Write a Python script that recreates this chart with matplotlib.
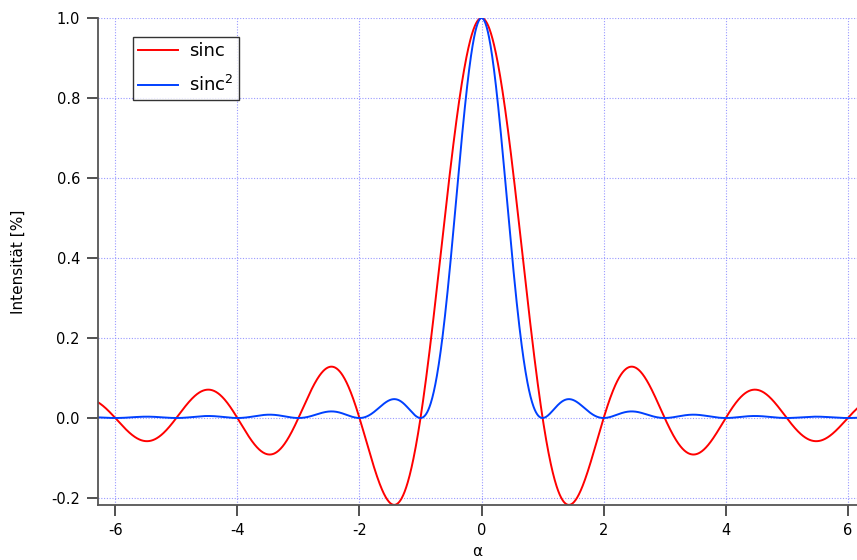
import numpy as np
import matplotlib
matplotlib.use('Agg')
import matplotlib.pyplot as plt

# Daten
x_min, x_max = -2 * np.pi, 2 * np.pi
alpha = np.linspace(x_min, x_max, 2000)
sinc_vals = np.sinc(alpha)
sinc2_vals = sinc_vals ** 2

x_ticks = [-6, -4, -2, 0, 2, 4, 6]
y_ticks = [-0.2, 0.0, 0.2, 0.4, 0.6, 0.8, 1.0]
series_labels = ['sinc', 'sinc$^2$']

plt.rcParams['font.family'] = ['DejaVu Sans']

fig = plt.figure(figsize=(8.57, 5.6), dpi=100)
ax = fig.add_axes([98 / 857, 1 - 505 / 560, 1 - 98 / 857, 487 / 560])

ax.plot(alpha, sinc_vals, color='#ff0000', lw=1.4, label=series_labels[0])
ax.plot(alpha, sinc2_vals, color='#0040ff', lw=1.4, label=series_labels[1])

ax.set_xlim(x_min, 6.15)
ax.set_ylim(-0.2175, 1.0)
ax.set_xticks(x_ticks)
ax.set_xticklabels([str(t) for t in x_ticks])
ax.set_yticks(y_ticks)
ax.set_yticklabels([f'{t:.1f}' for t in y_ticks])

ax.grid(True, color='#8080ff', ls=(0, (1, 1.5)), lw=0.8, alpha=0.8)
ax.set_axisbelow(True)
for side in ['top', 'right']:
    ax.spines[side].set_visible(False)
for side in ['left', 'bottom']:
    ax.spines[side].set_color('#555555')
    ax.spines[side].set_linewidth(1.3)
ax.tick_params(direction='out', length=8, width=1.2, color='#333333',
               labelsize=10.5, pad=5)

ax.set_xlabel('α', fontsize=11, labelpad=4)
ax.set_ylabel('Intensität [%]', fontsize=11, labelpad=18)

leg = ax.legend(loc='upper left', bbox_to_anchor=((133 - 98) / 759, 1 - (37 - 18) / 487),
                borderaxespad=0, fontsize=13, frameon=True, fancybox=False,
                handlelength=2.2, handletextpad=0.6, borderpad=0.3,
                labelspacing=0.8)
leg.get_frame().set_edgecolor('black')
leg.get_frame().set_linewidth(1.0)

fig.savefig('out.png', dpi=100, facecolor='white')
